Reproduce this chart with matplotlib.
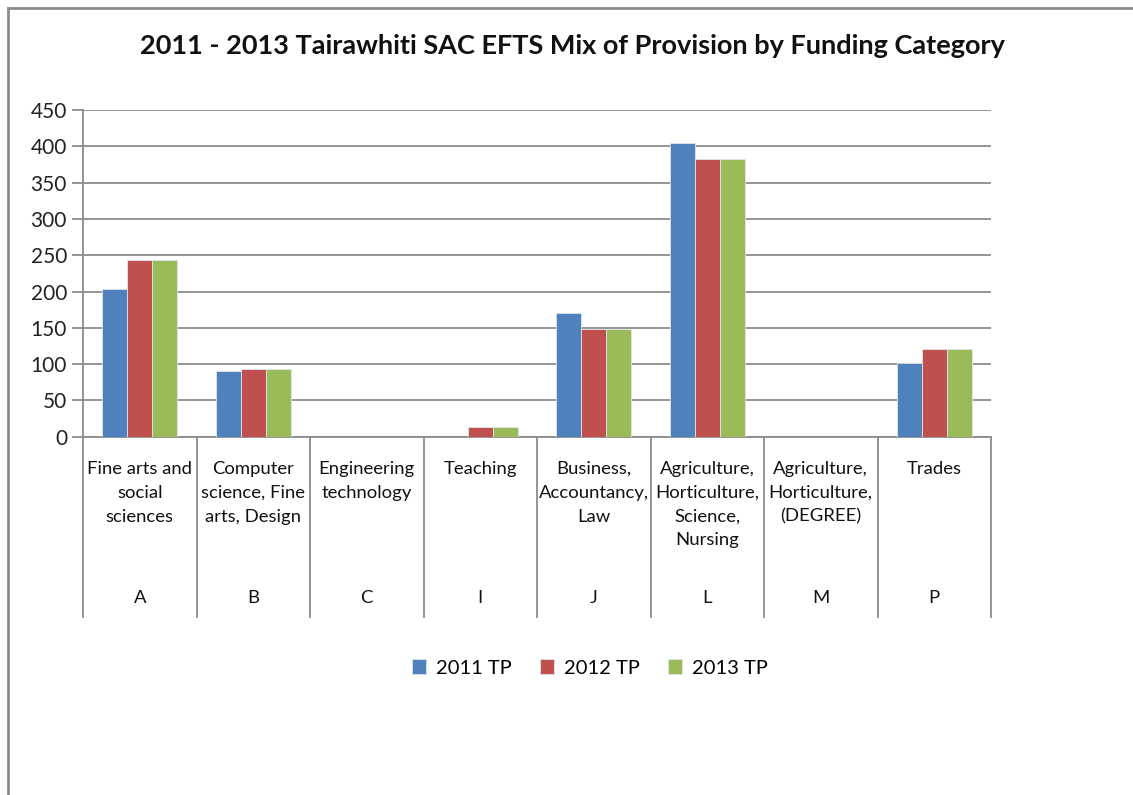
import matplotlib
matplotlib.use("Agg")
import matplotlib.pyplot as plt
import matplotlib.transforms as mtransforms
from matplotlib.lines import Line2D
import numpy as np

plt.rcParams['font.family'] = ['Lato', 'DejaVu Sans']

title = "2011 - 2013 Tairawhiti SAC EFTS Mix of Provision by Funding Category"
codes = ["A", "B", "C", "I", "J", "L", "M", "P"]
names = ["Fine arts and\nsocial\nsciences",
         "Computer\nscience, Fine\narts, Design",
         "Engineering\ntechnology",
         "Teaching",
         "Business,\nAccountancy,\nLaw",
         "Agriculture,\nHorticulture,\nScience,\nNursing",
         "Agriculture,\nHorticulture,\n(DEGREE)",
         "Trades"]
series_names = ["2011 TP", "2012 TP", "2013 TP"]
tp2011 = [203, 90, 0, 0, 171, 405, 0, 102]
tp2012 = [243, 93, 0, 14, 148, 382, 0, 121]
tp2013 = [243, 93, 0, 14, 148, 382, 0, 121]
colors = ["#4F81BD", "#C0504D", "#9BBB59"]
yticks = [0, 50, 100, 150, 200, 250, 300, 350, 400, 450]

W, H = 1133, 795
fig = plt.figure(figsize=(W / 100, H / 100), dpi=100)
ax = fig.add_axes([83 / W, 1 - 436.7 / H, (991 - 83) / W, (436.7 - 110) / H])

x = np.arange(len(codes))
bw = 0.22
for i, (vals, c, lab) in enumerate(zip([tp2011, tp2012, tp2013], colors, series_names)):
    ax.bar(x + (i - 1) * bw, vals, width=bw, color=c, label=lab,
           edgecolor="#dfe6f0", linewidth=0.6, zorder=3)

ax.set_xlim(-0.5, len(codes) - 0.5)
ax.set_ylim(0, 450)
ax.set_yticks(yticks)
ax.set_yticklabels([str(v) for v in yticks], fontsize=15, color="#222222")
ax.yaxis.grid(True, color="#8c8c8c", linewidth=1.3, zorder=0)
ax.set_axisbelow(True)
for s in ["top", "right"]:
    ax.spines[s].set_visible(False)
for s in ["left", "bottom"]:
    ax.spines[s].set_color("#8c8c8c")
    ax.spines[s].set_linewidth(1.3)
ax.tick_params(axis="y", length=8, width=1.3, color="#8c8c8c", pad=3.5)
ax.set_xticks([])

# multi-level category axis
trans = mtransforms.blended_transform_factory(ax.transData, ax.transAxes)
axh = 436.7 - 110
sep_bottom = -(617 - 436.7) / axh
for b in np.arange(-0.5, len(codes), 1.0):
    ax.add_line(Line2D([b, b], [0, sep_bottom], transform=trans, color="#8c8c8c",
                       linewidth=1.3, clip_on=False))
name_top = -(461 - 436.7) / axh
code_y = -(598 - 436.7) / axh
for xi, n, c in zip(x, names, codes):
    ax.text(xi, name_top, n, transform=trans, ha="center", va="top",
            fontsize=13.3, linespacing=1.6, color="#111111")
    ax.text(xi, code_y, c, transform=trans, ha="center", va="center",
            fontsize=13.3, color="#111111")

fig.text(572 / W, 1 - 46 / H, title, ha="center", va="center",
         fontsize=19.5, fontweight="bold", color="#111111")

leg = fig.legend(loc="center", bbox_to_anchor=(590 / W, 1 - 668 / H), ncol=3,
                 frameon=False, fontsize=14.5, handlelength=0.7, handleheight=0.7,
                 columnspacing=1.4, handletextpad=0.5)

# outer chart border (left and top)
fig.add_artist(Line2D([8 / W, 8 / W], [0, 1 - 8 / H], transform=fig.transFigure,
                      color="#8c8c8c", linewidth=2))
fig.add_artist(Line2D([8 / W, 1], [1 - 8 / H, 1 - 8 / H], transform=fig.transFigure,
                      color="#8c8c8c", linewidth=2))

fig.savefig("out.png", dpi=100, facecolor="white")
